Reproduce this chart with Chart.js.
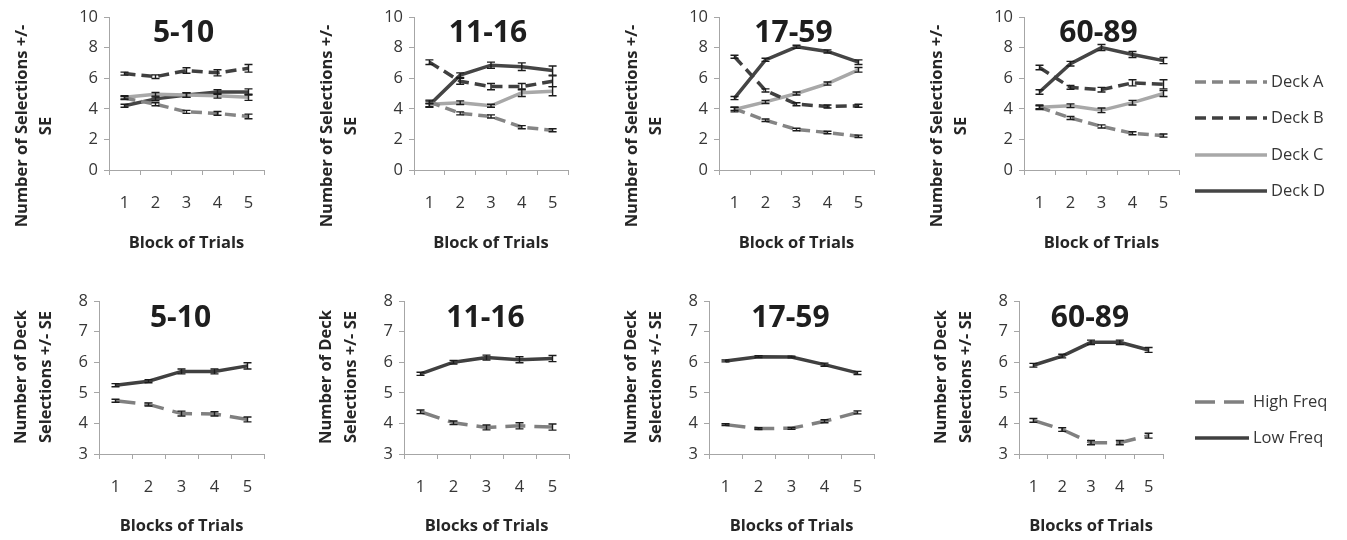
<!DOCTYPE html>
<html>
<head>
<meta charset="utf-8">
<script src="https://cdn.jsdelivr.net/npm/chart.js@4.4.1/dist/chart.umd.min.js"></script>
<style>
  html, body { margin: 0; padding: 0; background: #ffffff; }
  body { width: 1347px; height: 540px; position: relative; overflow: hidden; }
  .panel { position: absolute; }
  .panel canvas { display: block; }
</style>
</head>
<body>
<script>
// ---------- categories / labels ----------
const blocks = ['1', '2', '3', '4', '5'];
const ageGroups = ['5-10', '11-16', '17-59', '60-89'];
const deckNames = ['Deck A', 'Deck B', 'Deck C', 'Deck D'];
const freqNames = ['High Freq', 'Low Freq'];
const deckYTitle = ['Number of Selections +/-', 'SE'];
const freqYTitle = ['Number of Deck', 'Selections +/- SE'];
const deckXTitle = 'Block of Trials';
const freqXTitle = 'Blocks of Trials';
const deckYRange = [0, 10, 2];
const freqYRange = [3, 8, 1];

// ---------- deck selections (means) ----------
const deckA_5to10  = [4.7, 4.3, 3.8, 3.7, 3.5];
const deckB_5to10  = [6.3, 6.1, 6.5, 6.35, 6.65];
const deckC_5to10  = [4.75, 4.95, 4.9, 4.85, 4.75];
const deckD_5to10  = [4.2, 4.65, 4.9, 5.1, 5.1];

const deckA_11to16 = [4.45, 3.7, 3.5, 2.8, 2.6];
const deckB_11to16 = [7.05, 5.8, 5.45, 5.45, 5.8];
const deckC_11to16 = [4.3, 4.4, 4.2, 5.05, 5.15];
const deckD_11to16 = [4.25, 6.2, 6.85, 6.75, 6.5];

const deckA_17to59 = [4.0, 3.25, 2.65, 2.45, 2.2];
const deckB_17to59 = [7.4, 5.2, 4.3, 4.15, 4.2];
const deckC_17to59 = [3.95, 4.45, 5.0, 5.65, 6.55];
const deckD_17to59 = [4.7, 7.2, 8.05, 7.75, 7.05];

const deckA_60to89 = [4.1, 3.4, 2.85, 2.4, 2.25];
const deckB_60to89 = [6.7, 5.4, 5.25, 5.7, 5.6];
const deckC_60to89 = [4.1, 4.2, 3.9, 4.4, 5.0];
const deckD_60to89 = [5.1, 6.95, 8.0, 7.55, 7.15];

// ---------- deck selections (standard errors) ----------
const deckA_5to10_se  = [0.1, 0.1, 0.1, 0.12, 0.15];
const deckB_5to10_se  = [0.1, 0.12, 0.18, 0.2, 0.25];
const deckC_5to10_se  = [0.1, 0.12, 0.15, 0.15, 0.2];
const deckD_5to10_se  = [0.1, 0.12, 0.15, 0.15, 0.2];

const deckA_11to16_se = [0.12, 0.1, 0.1, 0.1, 0.1];
const deckB_11to16_se = [0.15, 0.2, 0.2, 0.2, 0.35];
const deckC_11to16_se = [0.2, 0.12, 0.1, 0.25, 0.3];
const deckD_11to16_se = [0.12, 0.15, 0.2, 0.25, 0.3];

const deckA_17to59_se = [0.1, 0.08, 0.08, 0.08, 0.08];
const deckB_17to59_se = [0.1, 0.1, 0.1, 0.1, 0.1];
const deckC_17to59_se = [0.15, 0.1, 0.1, 0.1, 0.15];
const deckD_17to59_se = [0.1, 0.1, 0.1, 0.1, 0.15];

const deckA_60to89_se = [0.1, 0.1, 0.1, 0.1, 0.1];
const deckB_60to89_se = [0.15, 0.12, 0.15, 0.2, 0.3];
const deckC_60to89_se = [0.15, 0.12, 0.15, 0.15, 0.2];
const deckD_60to89_se = [0.15, 0.15, 0.2, 0.2, 0.2];

// ---------- high / low frequency decks (means) ----------
const high_5to10  = [4.74, 4.62, 4.32, 4.31, 4.13];
const low_5to10   = [5.25, 5.38, 5.7, 5.7, 5.88];
const high_11to16 = [4.38, 4.02, 3.87, 3.92, 3.88];
const low_11to16  = [5.62, 6.0, 6.15, 6.08, 6.12];
const high_17to59 = [3.96, 3.83, 3.84, 4.07, 4.36];
const low_17to59  = [6.04, 6.18, 6.17, 5.92, 5.65];
const high_60to89 = [4.1, 3.8, 3.37, 3.37, 3.6];
const low_60to89  = [5.9, 6.2, 6.65, 6.65, 6.4];

// ---------- high / low frequency decks (standard errors) ----------
const high_5to10_se  = [0.05, 0.05, 0.08, 0.07, 0.08];
const low_5to10_se   = [0.05, 0.05, 0.08, 0.08, 0.1];
const high_11to16_se = [0.06, 0.06, 0.08, 0.1, 0.1];
const low_11to16_se  = [0.05, 0.06, 0.08, 0.1, 0.1];
const high_17to59_se = [0.03, 0.03, 0.03, 0.05, 0.05];
const low_17to59_se  = [0.03, 0.03, 0.03, 0.05, 0.05];
const high_60to89_se = [0.06, 0.06, 0.07, 0.07, 0.08];
const low_60to89_se  = [0.06, 0.06, 0.07, 0.07, 0.08];

// ---------- styles ----------
const FONT = '"Open Sans", "Noto Sans", sans-serif';
const AXIS_COLOR = '#a6a6a6';
const TICK_TEXT = '#363636';
const deckStyles = [
  { color: '#858585', dash: [11, 6] },
  { color: '#404040', dash: [11, 6] },
  { color: '#a8a8a8', dash: [] },
  { color: '#454545', dash: [] }
];
const freqStyles = [
  { color: '#808080', dash: [20, 9] },
  { color: '#404040', dash: [] }
];

// ---------- plugins ----------
const errorBarPlugin = {
  id: 'errorBars',
  afterDatasetsDraw(chart) {
    const ctx = chart.ctx;
    const yScale = chart.scales.y;
    ctx.save();
    ctx.strokeStyle = '#1c1c1c';
    ctx.lineWidth = 1.4;
    ctx.setLineDash([]);
    chart.data.datasets.forEach((ds, di) => {
      const meta = chart.getDatasetMeta(di);
      if (!ds.se) return;
      ds.data.forEach((v, i) => {
        const pt = meta.data[i];
        if (!pt) return;
        const x = pt.x;
        const yt = yScale.getPixelForValue(v + ds.se[i]);
        const yb = yScale.getPixelForValue(v - ds.se[i]);
        ctx.beginPath();
        ctx.moveTo(x, yt); ctx.lineTo(x, yb);
        ctx.moveTo(x - 4, yt); ctx.lineTo(x + 4, yt);
        ctx.moveTo(x - 4, yb); ctx.lineTo(x + 4, yb);
        ctx.stroke();
      });
    });
    ctx.restore();
  }
};

const decorPlugin = {
  id: 'decor',
  afterDraw(chart, args, o) {
    const ctx = chart.ctx;
    const a = chart.chartArea;
    const ox = o.canvasLeft, oy = o.canvasTop;
    ctx.save();
    // panel title
    ctx.fillStyle = '#1e1e1e';
    ctx.textAlign = 'center';
    ctx.textBaseline = 'middle';
    ctx.font = 'bold 30px ' + FONT;
    ctx.fillText(o.title, (a.left + a.right) / 2 + o.titleDx, a.top + o.titleDy);
    // y-axis title (two rotated lines)
    ctx.font = 'bold 16.5px ' + FONT;
    ctx.fillStyle = '#262626';
    o.yTitle.forEach((line, i) => {
      ctx.save();
      ctx.translate(a.left - o.yTitleOffsets[i], o.yTitleCenter - oy);
      ctx.rotate(-Math.PI / 2);
      ctx.fillText(line, 0, 0);
      ctx.restore();
    });
    // x-axis title
    ctx.fillText(o.xTitle, (a.left + a.right) / 2, a.bottom + o.xTitleDy);
    // legend
    if (o.legend) {
      const L = o.legend;
      chart.data.datasets.forEach((ds, i) => {
        const y = L.rows[i] - oy;
        ctx.save();
        ctx.strokeStyle = ds.borderColor;
        ctx.lineWidth = ds.borderWidth;
        ctx.setLineDash(ds.borderDash || []);
        ctx.beginPath();
        ctx.moveTo(L.x0 - ox, y);
        ctx.lineTo(L.x1 - ox, y);
        ctx.stroke();
        ctx.restore();
        ctx.font = '16.5px ' + FONT;
        ctx.fillStyle = '#363636';
        ctx.textAlign = 'left';
        ctx.fillText(ds.label, L.tx - ox, y);
      });
    }
    ctx.restore();
  }
};

// ---------- panel factory ----------
function makePanel(cfg) {
  const div = document.createElement('div');
  div.className = 'panel';
  div.style.left = cfg.canvasLeft + 'px';
  div.style.top = cfg.canvasTop + 'px';
  div.style.width = cfg.canvasW + 'px';
  div.style.height = cfg.canvasH + 'px';
  const canvas = document.createElement('canvas');
  canvas.width = cfg.canvasW;
  canvas.height = cfg.canvasH;
  canvas.style.width = cfg.canvasW + 'px';
  canvas.style.height = cfg.canvasH + 'px';
  div.appendChild(canvas);
  document.body.appendChild(div);

  const yW = cfg.plotLeft - cfg.canvasLeft;
  const xH = cfg.canvasTop + cfg.canvasH - cfg.plotBottom;
  const padTop = cfg.plotTop - cfg.canvasTop;
  const padRight = cfg.canvasLeft + cfg.canvasW - cfg.plotRight;

  const datasets = cfg.series.map((s, i) => ({
    label: s.name,
    data: s.values,
    se: s.se,
    borderColor: cfg.styles[i].color,
    backgroundColor: cfg.styles[i].color,
    borderDash: cfg.styles[i].dash,
    borderWidth: 3.5,
    pointRadius: 0,
    tension: 0,
    fill: false
  }));

  return new Chart(canvas, {
    type: 'line',
    data: { labels: blocks, datasets },
    options: {
      responsive: false,
      animation: false,
      devicePixelRatio: 1,
      events: [],
      layout: { padding: { left: 0, top: padTop, right: padRight, bottom: 0 } },
      plugins: {
        legend: { display: false },
        tooltip: { enabled: false },
        title: { display: false },
        decor: {
          canvasLeft: cfg.canvasLeft, canvasTop: cfg.canvasTop,
          title: cfg.title, titleDx: cfg.titleDx, titleDy: cfg.titleDy,
          yTitle: cfg.yTitle, yTitleOffsets: cfg.yTitleOffsets, yTitleCenter: cfg.yTitleCenter,
          xTitle: cfg.xTitle, xTitleDy: cfg.xTitleDy,
          legend: cfg.legend || null
        }
      },
      scales: {
        x: {
          type: 'category',
          offset: true,
          grid: { display: true, drawOnChartArea: false, offset: true, tickLength: 5, color: AXIS_COLOR, lineWidth: 1 },
          border: { display: true, color: AXIS_COLOR, width: 1 },
          ticks: { font: { family: FONT, size: 16.5 }, color: TICK_TEXT, padding: 18, maxRotation: 0, autoSkip: false },
          afterFit: (s) => { s.height = xH; }
        },
        y: {
          min: cfg.yRange[0],
          max: cfg.yRange[1],
          grid: { display: true, drawOnChartArea: false, tickLength: 5, color: AXIS_COLOR, lineWidth: 1 },
          border: { display: true, color: AXIS_COLOR, width: 1 },
          ticks: { stepSize: cfg.yRange[2], font: { family: FONT, size: 16.5 }, color: TICK_TEXT, padding: 6 },
          afterFit: (s) => { s.width = yW; }
        }
      }
    },
    plugins: [errorBarPlugin, decorPlugin]
  });
}

// ---------- layout ----------
const topLefts = [109, 414, 719, 1024];
const topRights = [264, 568, 874, 1179];
const botLefts = [99, 404, 709, 1019];
const botRights = [264, 569, 874, 1163];

const deckSeries = [
  [deckA_5to10, deckB_5to10, deckC_5to10, deckD_5to10],
  [deckA_11to16, deckB_11to16, deckC_11to16, deckD_11to16],
  [deckA_17to59, deckB_17to59, deckC_17to59, deckD_17to59],
  [deckA_60to89, deckB_60to89, deckC_60to89, deckD_60to89]
];
const deckSE = [
  [deckA_5to10_se, deckB_5to10_se, deckC_5to10_se, deckD_5to10_se],
  [deckA_11to16_se, deckB_11to16_se, deckC_11to16_se, deckD_11to16_se],
  [deckA_17to59_se, deckB_17to59_se, deckC_17to59_se, deckD_17to59_se],
  [deckA_60to89_se, deckB_60to89_se, deckC_60to89_se, deckD_60to89_se]
];
const freqSeries = [
  [high_5to10, low_5to10],
  [high_11to16, low_11to16],
  [high_17to59, low_17to59],
  [high_60to89, low_60to89]
];
const freqSE = [
  [high_5to10_se, low_5to10_se],
  [high_11to16_se, low_11to16_se],
  [high_17to59_se, low_17to59_se],
  [high_60to89_se, low_60to89_se]
];

for (let p = 0; p < 4; p++) {
  const last = p === 3;
  const cl = topLefts[p] - 100;
  makePanel({
    canvasLeft: cl, canvasTop: 0,
    canvasW: last ? 1347 - cl : topRights[p] + 25 - cl, canvasH: 262,
    plotLeft: topLefts[p], plotRight: topRights[p], plotTop: 17, plotBottom: 170,
    yRange: deckYRange,
    series: deckSeries[p].map((v, i) => ({ name: deckNames[i], values: v, se: deckSE[p][i] })),
    styles: deckStyles,
    title: ageGroups[p], titleDx: -3, titleDy: 16.5,
    yTitle: deckYTitle, yTitleOffsets: [87, 63], yTitleCenter: 126,
    xTitle: deckXTitle, xTitleDy: 73,
    legend: last ? { x0: 1195, x1: 1267, tx: 1271, rows: [82, 118, 155, 191] } : null
  });
  const cb = botLefts[p] - 100;
  makePanel({
    canvasLeft: cb, canvasTop: 262,
    canvasW: last ? 1347 - cb : botRights[p] + 25 - cb, canvasH: 278,
    plotLeft: botLefts[p], plotRight: botRights[p], plotTop: 301, plotBottom: 454,
    yRange: freqYRange,
    series: freqSeries[p].map((v, i) => ({ name: freqNames[i], values: v, se: freqSE[p][i] })),
    styles: freqStyles,
    title: ageGroups[p], titleDx: -1, titleDy: 17,
    yTitle: freqYTitle, yTitleOffsets: [78, 53], yTitleCenter: 377,
    xTitle: freqXTitle, xTitleDy: 72,
    legend: last ? { x0: 1195, x1: 1249, tx: 1253, rows: [402, 438] } : null
  });
}
</script>
</body>
</html>
